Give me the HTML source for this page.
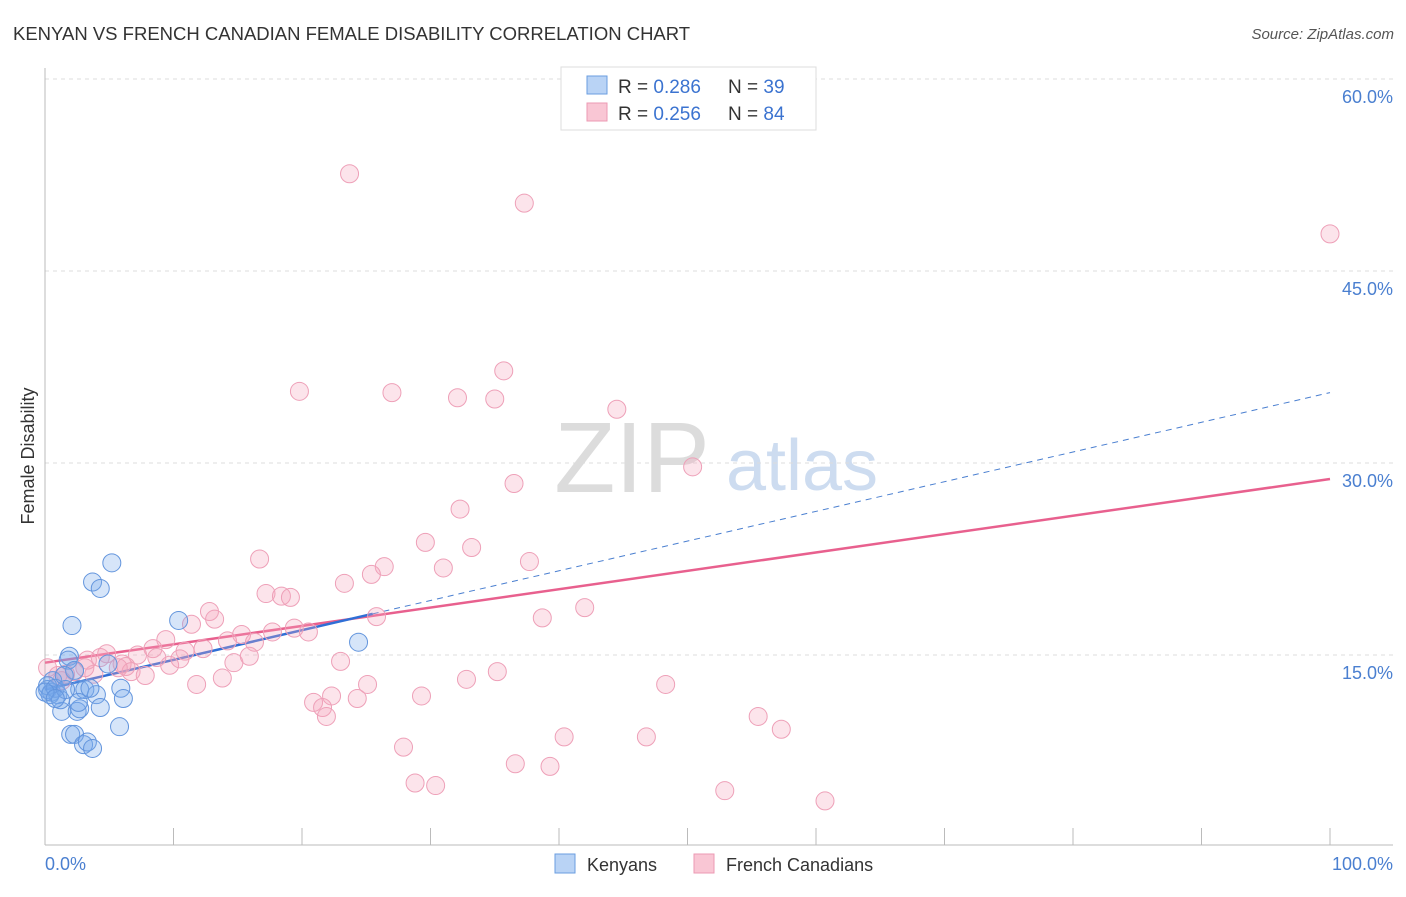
<!DOCTYPE html>
<html><head><meta charset="utf-8"><style>
body{margin:0;background:#fff;font-family:"Liberation Sans",sans-serif;}
svg text{font-family:"Liberation Sans",sans-serif;}
</style></head><body>
<svg id="chart" width="1406" height="892" viewBox="0 0 1406 892" xmlns="http://www.w3.org/2000/svg">
<text x="13" y="40" font-size="18.5" fill="#333">KENYAN VS FRENCH CANADIAN FEMALE DISABILITY CORRELATION CHART</text>
<text x="1394" y="39" font-size="15" fill="#555" text-anchor="end" font-style="italic">Source: ZipAtlas.com</text>
<g>
<text x="632" y="492" font-size="100" fill="#dcdcdc" font-family="Liberation Serif,serif" text-anchor="middle">ZIP</text>
<text x="802" y="490" font-size="72" fill="#cddcf0" text-anchor="middle">atlas</text>
</g>
<g id="grid"></g>
<g id="axes"></g>
<g id="lines"></g>
<g id="pts"></g>
<text transform="translate(34,456) rotate(-90)" font-size="18" fill="#333" text-anchor="middle">Female Disability</text>
<text x="45" y="870" font-size="18" fill="#4a7fd0">0.0%</text>
<text x="1393" y="870" font-size="18" fill="#4a7fd0" text-anchor="end">100.0%</text>
<g>
<rect x="561" y="67" width="255" height="63" fill="#fff" stroke="#ddd"/>
<rect x="587" y="76" width="20" height="18" fill="#b9d3f5" stroke="#6a9ee0"/>
<rect x="587" y="103" width="20" height="18" fill="#f9c6d4" stroke="#ec9ab3"/>
<text x="618" y="93" font-size="19" fill="#333">R = <tspan fill="#3b73d0">0.286</tspan></text>
<text x="728" y="93" font-size="19" fill="#333">N = <tspan fill="#3b73d0">39</tspan></text>
<text x="618" y="120" font-size="19" fill="#333">R = <tspan fill="#3b73d0">0.256</tspan></text>
<text x="728" y="120" font-size="19" fill="#333">N = <tspan fill="#3b73d0">84</tspan></text>
</g>
<g>
<rect x="555" y="854" width="20" height="19" fill="#b9d3f5" stroke="#6a9ee0"/>
<text x="587" y="871" font-size="18" fill="#333">Kenyans</text>
<rect x="694" y="854" width="20" height="19" fill="#f9c6d4" stroke="#ec9ab3"/>
<text x="726" y="871" font-size="18" fill="#333">French Canadians</text>
</g>
</svg>
<script>
const yTicks=[15,30,45,60];
const yTickLabels=["15.0%","30.0%","45.0%","60.0%"];
const kenX=[5.2,3.7,4.3,2.1,10.4,24.4,1.9,1.8,4.9,2.3,0.6,0.2,0.5,1.0,2.7,3.1,4.0,5.9,6.1,1.3,2.5,2.7,4.3,2.0,2.3,3.0,3.3,3.7,5.8,0.2,0.4,0.8,1.5,1.2,0,1.6,2.6,3.5,0.8];
const kenY=[22.2,20.7,20.2,17.3,17.7,16.0,14.9,14.6,14.3,13.8,13.0,12.3,12.1,11.9,12.3,12.3,11.9,12.4,11.6,10.6,10.6,10.8,10.9,8.8,8.8,8.0,8.2,7.7,9.4,12.6,11.9,12.4,13.4,11.5,12.1,12.3,11.3,12.4,11.6];
const frX=[23.7,37.3,100,35.7,19.8,27.0,32.1,35.0,44.5,50.4,36.5,32.3,29.6,33.2,37.7,16.7,26.4,31.0,25.4,23.3,17.2,18.4,19.1,12.8,13.2,38.7,25.8,42.0,11.4,9.4,15.3,14.2,17.7,19.4,20.5,8.4,10.9,12.3,16.3,7.2,4.8,4.3,6.0,6.3,8.7,6.7,7.8,9.7,10.5,14.7,15.9,5.7,3.8,1.6,1.0,2.3,3.3,23.0,11.8,13.8,35.2,32.8,48.3,25.1,22.3,20.9,29.3,21.6,21.9,24.3,55.5,57.3,40.4,46.8,27.9,36.6,39.3,28.8,30.4,52.9,60.7,1.3,0.2,3.1];
const frY=[52.6,50.3,47.9,37.2,35.6,35.5,35.1,35.0,34.2,29.7,28.4,26.4,23.8,23.4,22.3,22.5,21.9,21.8,21.3,20.6,19.8,19.6,19.5,18.4,17.8,17.9,18.0,18.7,17.4,16.2,16.6,16.1,16.8,17.1,16.8,15.5,15.3,15.5,16.0,15.0,15.1,14.8,14.3,14.1,14.8,13.7,13.4,14.2,14.7,14.4,14.9,14.0,13.5,13.5,13.4,13.7,14.6,14.5,12.7,13.2,13.7,13.1,12.7,12.7,11.8,11.3,11.8,10.9,10.2,11.6,10.2,9.2,8.6,8.6,7.8,6.5,6.3,5.0,4.8,4.4,3.6,13.0,14.0,14.0];
const kenTrend=[12.3,35.5];
const frTrend=[14.4,28.75];
const kenSolidEnd=25.5;
const NS="http://www.w3.org/2000/svg";
const sx=v=>45+v*12.85, sy=v=>847-v*12.8;
function mk(tag,attrs,parent){const e=document.createElementNS(NS,tag);for(const k in attrs)e.setAttribute(k,attrs[k]);parent.appendChild(e);return e;}
const grid=document.getElementById('grid'),axes=document.getElementById('axes'),lines=document.getElementById('lines'),pts=document.getElementById('pts');
yTicks.forEach((t,i)=>{
  const l=mk('line',{x1:45,x2:1393,y1:sy(t),y2:sy(t),stroke:'#ddd','stroke-dasharray':'4,4'},grid);
  
  
  const tx=mk('text',{x:1393,y:sy(t)+24,'font-size':18,fill:'#4a7fd0','text-anchor':'end'},axes);
  tx.textContent=yTickLabels[i];
  
  
});
mk('line',{x1:45,x2:45,y1:68,y2:845,stroke:'#bbb'},axes);
mk('line',{x1:45,x2:1393,y1:845,y2:845,stroke:'#bbb'},axes);
for(let i=1;i<=10;i++){const t=mk('line',{x1:sx(i*10),x2:sx(i*10),y1:828,y2:845,stroke:'#bbb'},axes);
  
  }
function dot(x,y,fill,stroke,name){const c=mk('circle',{cx:sx(x),cy:sy(y),r:9,fill:fill,stroke:stroke,'stroke-width':1},pts);
  
  }
frX.forEach((x,i)=>dot(x,frY[i],'rgba(245,165,190,0.3)','#eea0b8','french-canadian-point'));
kenX.forEach((x,i)=>dot(x,kenY[i],'rgba(120,170,235,0.3)','#6395dd','kenyan-point'));
const kAt=x=>kenTrend[0]+(kenTrend[1]-kenTrend[0])*x/100;
let l1=mk('line',{x1:sx(kenSolidEnd),y1:sy(kAt(kenSolidEnd)),x2:sx(100),y2:sy(kAt(100)),stroke:'#4a7fd0','stroke-width':1,'stroke-dasharray':'6,5'},lines);


let l2=mk('line',{x1:sx(0),y1:sy(frTrend[0]),x2:sx(100),y2:sy(frTrend[1]),stroke:'#e8608e','stroke-width':2.5},lines);


let l3=mk('line',{x1:sx(0),y1:sy(kAt(0)),x2:sx(kenSolidEnd),y2:sy(kAt(kenSolidEnd)),stroke:'#2f6fd6','stroke-width':2.5},lines);


</script>
</body></html>
